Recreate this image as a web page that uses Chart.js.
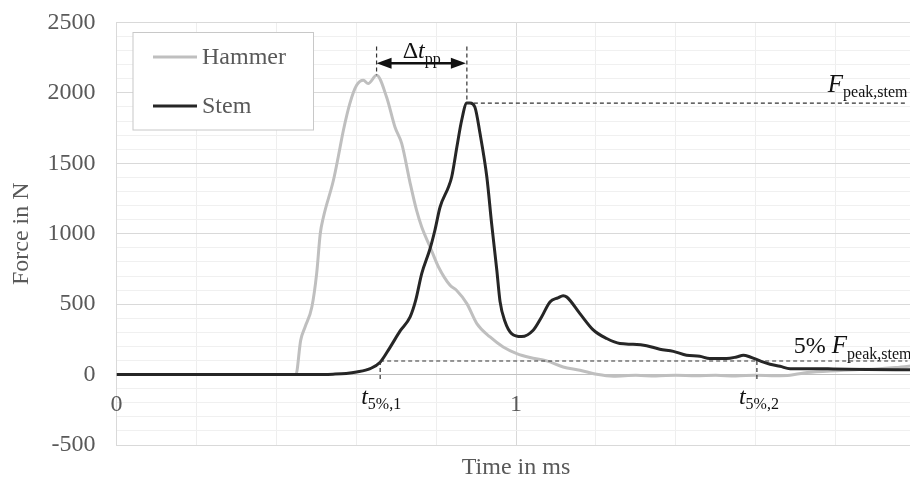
<!DOCTYPE html>
<html><head><meta charset="utf-8">
<script src="https://cdn.jsdelivr.net/npm/chart.js@4.4.1/dist/chart.umd.min.js"></script>
<style>
html,body{margin:0;padding:0;background:#fff;overflow:hidden;width:910px;height:478px}
#wrap{position:absolute;left:0;top:0;width:930px;height:478px}
</style>
</head><body><div id="wrap"><canvas id="c" width="930" height="478"></canvas></div>
<script>
// ---- data ----
const hammerTime  = [0,0.1,0.2,0.3,0.4,0.449,0.461,0.472,0.489,0.501,0.510,0.518,0.543,0.555,0.568,0.584,0.601,0.618,0.630,0.651,0.676,0.697,0.714,0.735,0.751,0.764,0.785,0.806,0.835,0.851,0.877,0.902,0.935,0.968,1.002,1.035,1.077,1.118,1.160,1.202,1.244,1.30,1.35,1.40,1.45,1.50,1.55,1.60,1.65,1.686,1.72,1.786,1.85,1.90,1.95,2.0];
const hammerForce = [0,0,0,0,0,0,243,338,480,717,1000,1119,1380,1545,1735,1924,2054,2090,2066,2125,1971,1758,1640,1360,1167,1048,906,764,634,599,504,362,267,196,149,121,97,54,31,2,-12,-5,-10,-4,-9,-5,-10,-4,-8,-5,12,25,35,40,50,65];
const stemTime  = [0,0.1,0.2,0.3,0.4,0.5,0.542,0.575,0.601,0.635,0.660,0.684,0.710,0.735,0.749,0.764,0.785,0.797,0.810,0.831,0.839,0.852,0.864,0.877,0.885,0.897,0.910,0.927,0.939,0.952,0.960,0.972,0.989,1.014,1.043,1.064,1.085,1.105,1.118,1.127,1.160,1.194,1.227,1.260,1.293,1.327,1.360,1.394,1.427,1.460,1.485,1.527,1.552,1.569,1.586,1.611,1.636,1.661,1.686,1.728,1.794,1.878,1.95,2.0];
const stemForce = [0,0,0,0,0,0,3,8,18,42,88,190,310,409,528,717,895,1025,1190,1332,1403,1616,1806,1928,1928,1900,1711,1403,1072,741,520,380,291,270,315,409,516,545,560,551,433,315,256,220,215,205,180,165,137,130,114,114,125,137,125,97,73,59,42,42,40,36,35,35];
const xTickLabels = [0,1,2];
// annotation values (ms / N)
const tPeakHammer = 0.651, fPeakHammer = 2125;
const tPeakStem = 0.877, fPeakStem = 1928;
const t5pct1 = 0.660, t5pct2 = 1.603;
const lineEndT = 1.98, arrowLevel = 2210, dashTop = 2330;

const SERIF = '"Liberation Serif", "Times New Roman", serif';
const GRAY = '#595959';

function rich(ctx, parts, x, y, align) {
  let w = 0;
  parts.forEach(p => { ctx.font = p.font; p.w = ctx.measureText(p.t).width; w += p.w; });
  let cx = align === 'right' ? x - w : align === 'center' ? x - w / 2 : x;
  ctx.textAlign = 'left'; ctx.textBaseline = 'alphabetic';
  parts.forEach(p => { ctx.font = p.font; ctx.fillText(p.t, cx, y + (p.dy || 0)); cx += p.w; });
}
function seg(ctx, x1, y1, x2, y2) { ctx.beginPath(); ctx.moveTo(x1, y1); ctx.lineTo(x2, y2); ctx.stroke(); }

const annot = {
  id: 'annot',
  afterDraw(chart) {
    const ctx = chart.ctx, x = chart.scales.x, y = chart.scales.y;
    ctx.save();
    // x tick labels at zero line
    ctx.fillStyle = GRAY; ctx.font = '24px ' + SERIF; ctx.textAlign = 'center'; ctx.textBaseline = 'middle';
    const y0 = y.getPixelForValue(0);
    xTickLabels.forEach(v => ctx.fillText(String(v), x.getPixelForValue(v), y0 + 30));

    // dashed lines
    ctx.strokeStyle = '#333'; ctx.lineWidth = 1.2; ctx.setLineDash([4, 3]);
    const xh = x.getPixelForValue(tPeakHammer), xs = x.getPixelForValue(tPeakStem);
    const yTop = y.getPixelForValue(dashTop);
    const yPk = y.getPixelForValue(fPeakStem), yHk = y.getPixelForValue(fPeakHammer);
    const xEnd = x.getPixelForValue(lineEndT);
    seg(ctx, xh, yTop, xh, yHk);
    seg(ctx, xs, yTop, xs, yPk);
    seg(ctx, xs, yPk, xEnd, yPk);
    const f5 = 0.05 * fPeakStem, y5 = y.getPixelForValue(f5);
    const x51 = x.getPixelForValue(t5pct1), x52 = x.getPixelForValue(t5pct2);
    seg(ctx, x51, y5, xEnd, y5);
    seg(ctx, x51, y5, x51, y5 + 18);
    seg(ctx, x52, y5, x52, y5 + 18);
    ctx.setLineDash([]);

    // double arrow
    const ya = y.getPixelForValue(arrowLevel);
    ctx.strokeStyle = '#111'; ctx.fillStyle = '#111'; ctx.lineWidth = 2.5;
    seg(ctx, xh + 10, ya, xs - 10, ya);
    ctx.beginPath(); ctx.moveTo(xh, ya); ctx.lineTo(xh + 15, ya - 5.5); ctx.lineTo(xh + 15, ya + 5.5); ctx.closePath(); ctx.fill();
    ctx.beginPath(); ctx.moveTo(xs - 1, ya); ctx.lineTo(xs - 16, ya - 5.5); ctx.lineTo(xs - 16, ya + 5.5); ctx.closePath(); ctx.fill();

    // texts
    ctx.fillStyle = '#111';
    const it = 'italic 24px ' + SERIF, rg = '24px ' + SERIF, sb = '16px ' + SERIF;
    rich(ctx, [{t: '\u0394', font: rg}, {t: 't', font: it}, {t: 'pp', font: sb, dy: 6}], (xh + xs) / 2, ya - 5, 'center');
    rich(ctx, [{t: 'F', font: 'italic 25px ' + SERIF}, {t: 'peak,stem', font: sb, dy: 5}], xEnd, yPk - 11, 'right');
    rich(ctx, [{t: '5% ', font: rg}, {t: 'F', font: 'italic 25px ' + SERIF}, {t: 'peak,stem', font: sb, dy: 6}], xEnd + 4, y5 - 8.5, 'right');
    rich(ctx, [{t: 't', font: it}, {t: '5%,1', font: sb, dy: 5}], x51 + 1, y0 + 29, 'center');
    rich(ctx, [{t: 't', font: it}, {t: '5%,2', font: sb, dy: 5}], x52 + 2, y0 + 29, 'center');

    // legend
    const L = chart.chartArea.left;
    const bx = L + 16.5, by = 32.5, bw = 180.5, bh = 97.5;
    ctx.fillStyle = '#fff'; ctx.fillRect(bx, by, bw, bh);
    ctx.strokeStyle = '#c8c8c8'; ctx.lineWidth = 1; ctx.strokeRect(bx, by, bw, bh);
    const items = chart.data.datasets.map(d => ({label: d.label, color: d.borderColor}));
    items.forEach((it2, i) => {
      const ly = 57 + i * 49;
      ctx.strokeStyle = it2.color; ctx.lineWidth = 3;
      seg(ctx, bx + 20, ly, bx + 64, ly);
      ctx.fillStyle = GRAY; ctx.font = '24px ' + SERIF; ctx.textAlign = 'left'; ctx.textBaseline = 'middle';
      ctx.fillText(it2.label, bx + 69, ly + 1);
    });
    ctx.restore();
  }
};

const isInt = v => Math.abs(v - Math.round(v)) < 1e-6;
const isMult = (v, m) => Math.abs(v / m - Math.round(v / m)) < 1e-6;

new Chart(document.getElementById('c'), {
  type: 'line',
  data: {
    datasets: [
      {label: 'Hammer', data: hammerTime.map((t, i) => ({x: t, y: hammerForce[i]})), borderColor: '#bfbfbf', borderWidth: 3, pointRadius: 0, cubicInterpolationMode: 'monotone', order: 1},
      {label: 'Stem', data: stemTime.map((t, i) => ({x: t, y: stemForce[i]})), borderColor: '#262626', borderWidth: 3, pointRadius: 0, cubicInterpolationMode: 'monotone', order: 0}
    ]
  },
  options: {
    responsive: false, animation: false, devicePixelRatio: 1,
    layout: {padding: {top: 22.5, right: 14.5, left: 0, bottom: 0}},
    plugins: {legend: {display: false}, tooltip: {enabled: false}},
    scales: {
      x: {
        type: 'linear', min: 0, max: 2,
        ticks: {display: false, stepSize: 0.2, autoSkip: false},
        grid: {drawTicks: false, color: c => isInt(c.tick.value) ? '#d9d9d9' : '#eeeeee'},
        border: {display: true, color: '#d9d9d9'},
        title: {display: true, text: 'Time in ms', color: GRAY, font: {family: SERIF, size: 24, lineHeight: 0.8}, padding: {top: 0, bottom: 1}},
        afterFit: s => { s.height = 33; s.paddingLeft = 0; s.paddingRight = 0; }
      },
      y: {
        min: -500, max: 2500,
        ticks: {stepSize: 100, autoSkip: false, padding: 21, color: GRAY, font: {family: SERIF, size: 24},
          callback: v => isMult(v, 500) ? String(Math.round(v)) : ''},
        grid: {drawTicks: false, color: c => c.tick.value === 0 ? '#bfbfbf' : (isMult(c.tick.value, 500) ? '#d9d9d9' : '#f0f0f0')},
        border: {display: true, color: '#d9d9d9'},
        title: {display: true, text: 'Force in N', color: GRAY, font: {family: SERIF, size: 24, lineHeight: 1.2}, padding: {top: 7.5, bottom: 0}},
        afterFit: s => { s.width = 116.5; s.paddingTop = 0; s.paddingBottom = 0; }
      }
    }
  },
  plugins: [annot]
});
</script></body></html>
